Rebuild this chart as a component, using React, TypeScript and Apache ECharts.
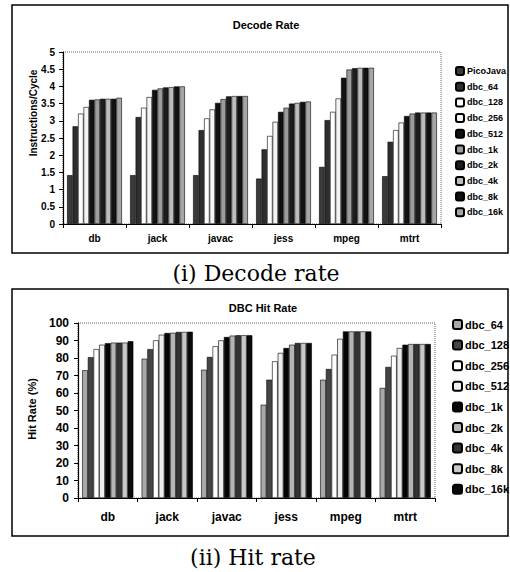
import React, { useEffect, useRef } from "react";
import * as echarts from "echarts";

const categories = ["db", "jack", "javac", "jess", "mpeg", "mtrt"];

const decodeSeriesNames = ["PicoJava", "dbc_64", "dbc_128", "dbc_256", "dbc_512", "dbc_1k", "dbc_2k", "dbc_4k", "dbc_8k", "dbc_16k"];
const picoJava = [1.42, 1.42, 1.42, 1.32, 1.66, 1.39];
const dec64 = [2.84, 3.11, 2.73, 2.17, 3.02, 2.39];
const dec128 = [3.21, 3.38, 3.07, 2.56, 3.26, 2.73];
const dec256 = [3.40, 3.69, 3.33, 2.97, 3.65, 2.95];
const dec512 = [3.61, 3.90, 3.52, 3.26, 4.25, 3.14];
const dec1k = [3.62, 3.94, 3.63, 3.38, 4.49, 3.21];
const dec2k = [3.64, 3.97, 3.71, 3.50, 4.53, 3.24];
const dec4k = [3.64, 3.98, 3.72, 3.52, 4.54, 3.24];
const dec8k = [3.64, 4.00, 3.72, 3.55, 4.54, 3.24];
const dec16k = [3.67, 4.00, 3.72, 3.56, 4.54, 3.24];
const decodeData = [picoJava, dec64, dec128, dec256, dec512, dec1k, dec2k, dec4k, dec8k, dec16k];

const hitSeriesNames = ["dbc_64", "dbc_128", "dbc_256", "dbc_512", "dbc_1k", "dbc_2k", "dbc_4k", "dbc_8k", "dbc_16k"];
const hit64 = [73, 79.6, 73.3, 53.3, 67.6, 62.9];
const hit128 = [80.4, 85.1, 80.6, 67.6, 73.7, 74.9];
const hit256 = [85.1, 90.1, 86.7, 78.1, 81.9, 81.3];
const hit512 = [87.6, 93.3, 90.1, 82.9, 91, 85.7];
const hit1k = [88.5, 94.3, 92, 85.7, 95.2, 87.6];
const hit2k = [88.8, 94.4, 92.8, 87.6, 95.2, 88];
const hit4k = [88.8, 94.9, 93, 88.6, 95.2, 88];
const hit8k = [88.8, 94.9, 93, 88.6, 95.2, 88];
const hit16k = [89.6, 95, 93, 88.6, 95.2, 88];
const hitData = [hit64, hit128, hit256, hit512, hit1k, hit2k, hit4k, hit8k, hit16k];

const decodeTicks = ["0", "0.5", "1", "1.5", "2", "2.5", "3", "3.5", "4", "4.5", "5"];
const hitTicks = ["0", "10", "20", "30", "40", "50", "60", "70", "80", "90", "100"];

const decodeColors = ["#3a3a3a", "#2e2e2e", "#ffffff", "#f4f4f4", "#111111", "#9c9c9c", "#1c1c1c", "#bdbdbd", "#111111", "#a6a6a6"];
const hitColors = ["#a8a8a8", "#454545", "#ffffff", "#eeeeee", "#050505", "#b5b5b5", "#333333", "#c8c8c8", "#0a0a0a"];

const SANS = "Liberation Sans, Arial, sans-serif";
const SERIF = "DejaVu Serif, serif";

export default function App() {
  const ref = useRef<HTMLDivElement>(null);
  useEffect(() => {
    const chart = echarts.init(ref.current!, undefined, { renderer: "svg" });
    const series: any[] = [];
    decodeSeriesNames.forEach((n, i) => {
      series.push({
        type: "bar",
        name: n + "#1",
        xAxisIndex: 0,
        yAxisIndex: 0,
        data: decodeData[i],
        barGap: "0%",
        barCategoryGap: "13%",
        itemStyle: { color: decodeColors[i], borderColor: "#000", borderWidth: 0.6 },
      });
    });
    hitSeriesNames.forEach((n, i) => {
      series.push({
        type: "bar",
        name: n + "#2",
        xAxisIndex: 1,
        yAxisIndex: 1,
        data: hitData[i],
        barGap: "0%",
        barCategoryGap: "14%",
        itemStyle: { color: hitColors[i], borderColor: "#000", borderWidth: 0.6 },
      });
    });
    const labelFmt = (name: string) => name.split("#")[0];
    chart.setOption({
      animation: false,
      backgroundColor: "#fff",
      textStyle: { fontFamily: SANS },
      title: [
        { text: "Decode Rate", left: 261, top: 14, textAlign: "center", textStyle: { fontSize: 11, fontWeight: "bold", fontFamily: SANS, color: "#000" } },
        { text: "DBC Hit Rate", left: 258, top: 297, textAlign: "center", textStyle: { fontSize: 11, fontWeight: "bold", fontFamily: SANS, color: "#000" } },
      ],
      legend: [
        {
          data: decodeSeriesNames.map((n) => n + "#1"),
          orient: "vertical",
          left: 450,
          top: 60,
          itemWidth: 8,
          itemHeight: 8,
          itemGap: 3.7,
          formatter: labelFmt,
          textStyle: { fontSize: 9, fontWeight: "bold", fontFamily: SANS, color: "#000", lineHeight: 12, padding: [0, 0, 0, -2] },
          selectedMode: false,
        },
        {
          data: hitSeriesNames.map((n) => n + "#2"),
          orient: "vertical",
          left: 447,
          top: 313,
          itemWidth: 9,
          itemHeight: 9,
          itemGap: 7.6,
          formatter: labelFmt,
          textStyle: { fontSize: 11, fontWeight: "bold", fontFamily: SANS, color: "#000", lineHeight: 13, padding: [0, 0, 0, -2] },
          selectedMode: false,
        },
      ],
      grid: [
        { left: 63, top: 52, width: 378, height: 172, show: true, borderColor: "#666", borderWidth: 1, borderType: "dotted", backgroundColor: "transparent" },
        { left: 78, top: 323, width: 357, height: 175, show: true, borderColor: "#666", borderWidth: 1, borderType: "dotted", backgroundColor: "transparent" },
      ],
      xAxis: [
        {
          type: "category", gridIndex: 0, data: categories,
          axisLine: { lineStyle: { color: "#000", width: 1.2 } },
          axisTick: { show: true, length: 4, lineStyle: { color: "#000" } },
          axisLabel: { color: "#000", fontSize: 10, fontWeight: "bold", fontFamily: SANS, margin: 9 },
        },
        {
          type: "category", gridIndex: 1, data: categories,
          axisLine: { lineStyle: { color: "#000", width: 1.2 } },
          axisTick: { show: true, length: 4, lineStyle: { color: "#000" } },
          axisLabel: { color: "#000", fontSize: 12, fontWeight: "bold", fontFamily: SANS, margin: 13 },
        },
      ],
      yAxis: [
        {
          type: "value", gridIndex: 0, min: 0, max: 5, interval: 0.5,
          axisLine: { show: true, lineStyle: { color: "#000", width: 1.2 } },
          axisTick: { show: true, length: 4, lineStyle: { color: "#000" } },
          splitLine: { show: false },
          axisLabel: { color: "#000", fontSize: 10, fontWeight: "bold", fontFamily: SANS, margin: 8, formatter: (v: number) => decodeTicks[Math.round(v / 0.5)] },
        },
        {
          type: "value", gridIndex: 1, min: 0, max: 100, interval: 10,
          axisLine: { show: true, lineStyle: { color: "#000", width: 1.2 } },
          axisTick: { show: true, length: 4, lineStyle: { color: "#000" } },
          splitLine: { show: false },
          axisLabel: { color: "#000", fontSize: 12, fontWeight: "bold", fontFamily: SANS, margin: 9, formatter: (v: number) => hitTicks[Math.round(v / 10)] },
        },
      ],
      graphic: [
        { type: "rect", shape: { x: 12, y: 5, width: 496, height: 248 }, style: { fill: "none", stroke: "#000", lineWidth: 1.5 }, z: -1 },
        { type: "rect", shape: { x: 12, y: 289, width: 496, height: 247 }, style: { fill: "none", stroke: "#000", lineWidth: 1.5 }, z: -1 },
        { type: "text", x: 33, y: 113, rotation: Math.PI / 2, style: { text: "Instructions/Cycle", fontSize: 10, fontWeight: "bold", fontFamily: SANS, fill: "#000", textAlign: "center", textVerticalAlign: "middle" } },
        { type: "text", x: 32, y: 409, rotation: Math.PI / 2, style: { text: "Hit Rate (%)", fontSize: 11, fontWeight: "bold", fontFamily: SANS, fill: "#000", textAlign: "center", textVerticalAlign: "middle" } },
        { type: "text", x: 256, y: 273, style: { text: "(i) Decode rate", fontSize: 22, fontFamily: SERIF, fill: "#000", textAlign: "center", textVerticalAlign: "middle" } },
        { type: "text", x: 253, y: 557, style: { text: "(ii) Hit rate", fontSize: 22, fontFamily: SERIF, fill: "#000", textAlign: "center", textVerticalAlign: "middle" } },
      ],
      series,
    });
    return () => chart.dispose();
  }, []);
  return <div ref={ref} style={{ position: "fixed", left: 0, top: 0, width: 510, height: 572, background: "#fff" }} />;
}
